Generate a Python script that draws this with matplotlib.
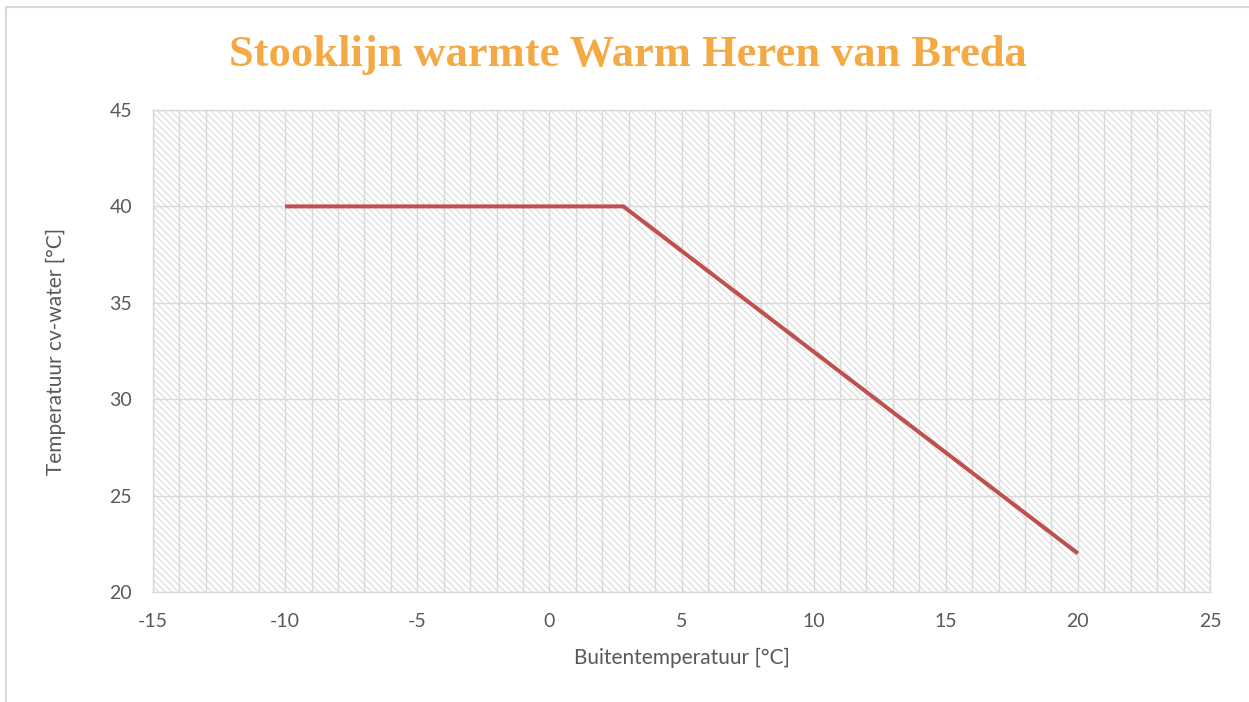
import matplotlib
matplotlib.use('Agg')
import matplotlib.pyplot as plt
from matplotlib.patches import Rectangle
from matplotlib.lines import Line2D
import numpy as np

# stooklijn: buitentemperatuur -> aanvoertemperatuur cv-water
buiten_temp = [-10, 2.8, 20]
cv_temp = [40, 40, 22]

x_ticks = [-15, -10, -5, 0, 5, 10, 15, 20, 25]
y_ticks = [20, 25, 30, 35, 40, 45]

title = 'Stooklijn warmte Warm Heren van Breda'
xlabel = 'Buitentemperatuur [°C]'
ylabel = 'Temperatuur cv-water [°C]'

plt.rcParams['font.family'] = ['Lato', 'DejaVu Sans']
plt.rcParams['axes.unicode_minus'] = False
plt.rcParams['hatch.linewidth'] = 0.8

grid_col = '#d9d9d9'
text_col = '#595959'

fig = plt.figure(figsize=(12.49, 7.02), dpi=100)
ax = fig.add_axes([153 / 1249, 1 - 592 / 702, (1210 - 153) / 1249, (592 - 110) / 702])

# chart border (only top and left visible in crop)
fig.add_artist(Line2D([6 / 1249, 6 / 1249], [0, 1 - 7 / 702], color=grid_col, lw=1.5))
fig.add_artist(Line2D([6 / 1249, 1], [1 - 7 / 702, 1 - 7 / 702], color=grid_col, lw=1.5))

# hatched plot area
ax.add_patch(Rectangle((0, 0), 1, 1, transform=ax.transAxes, facecolor='white',
                       edgecolor='#d9d9d9', hatch='\\\\\\\\\\', lw=0, zorder=0))

ax.plot(buiten_temp, cv_temp, color='#C0504D', lw=2.9, solid_capstyle='butt', zorder=3)

ax.set_xlim(-15, 25)
ax.set_ylim(20, 45)
ax.set_xticks(x_ticks)
ax.set_yticks(y_ticks)
ax.set_xticks(np.arange(-15, 26, 1), minor=True)
ax.set_axisbelow(True)
ax.grid(which='major', axis='y', color=grid_col, lw=1.0)
ax.grid(which='both', axis='x', color=grid_col, lw=1.0)
ax.tick_params(which='both', length=0, colors=text_col, labelsize=14)
ax.tick_params(axis='x', pad=15)
ax.tick_params(axis='y', pad=15)
for s in ax.spines.values():
    s.set_color(grid_col)
    s.set_linewidth(1.0)

ax.set_xlabel(xlabel, color=text_col, fontsize=15, labelpad=13)
ax.set_ylabel(ylabel, color=text_col, fontsize=15, labelpad=31)

fig.text(628 / 1249, 1 - 55 / 702, title, ha='center', va='center',
         family=['Liberation Serif'], fontweight='bold', fontsize=32, color='#F4A944')

plt.savefig('out.png', dpi=100)
